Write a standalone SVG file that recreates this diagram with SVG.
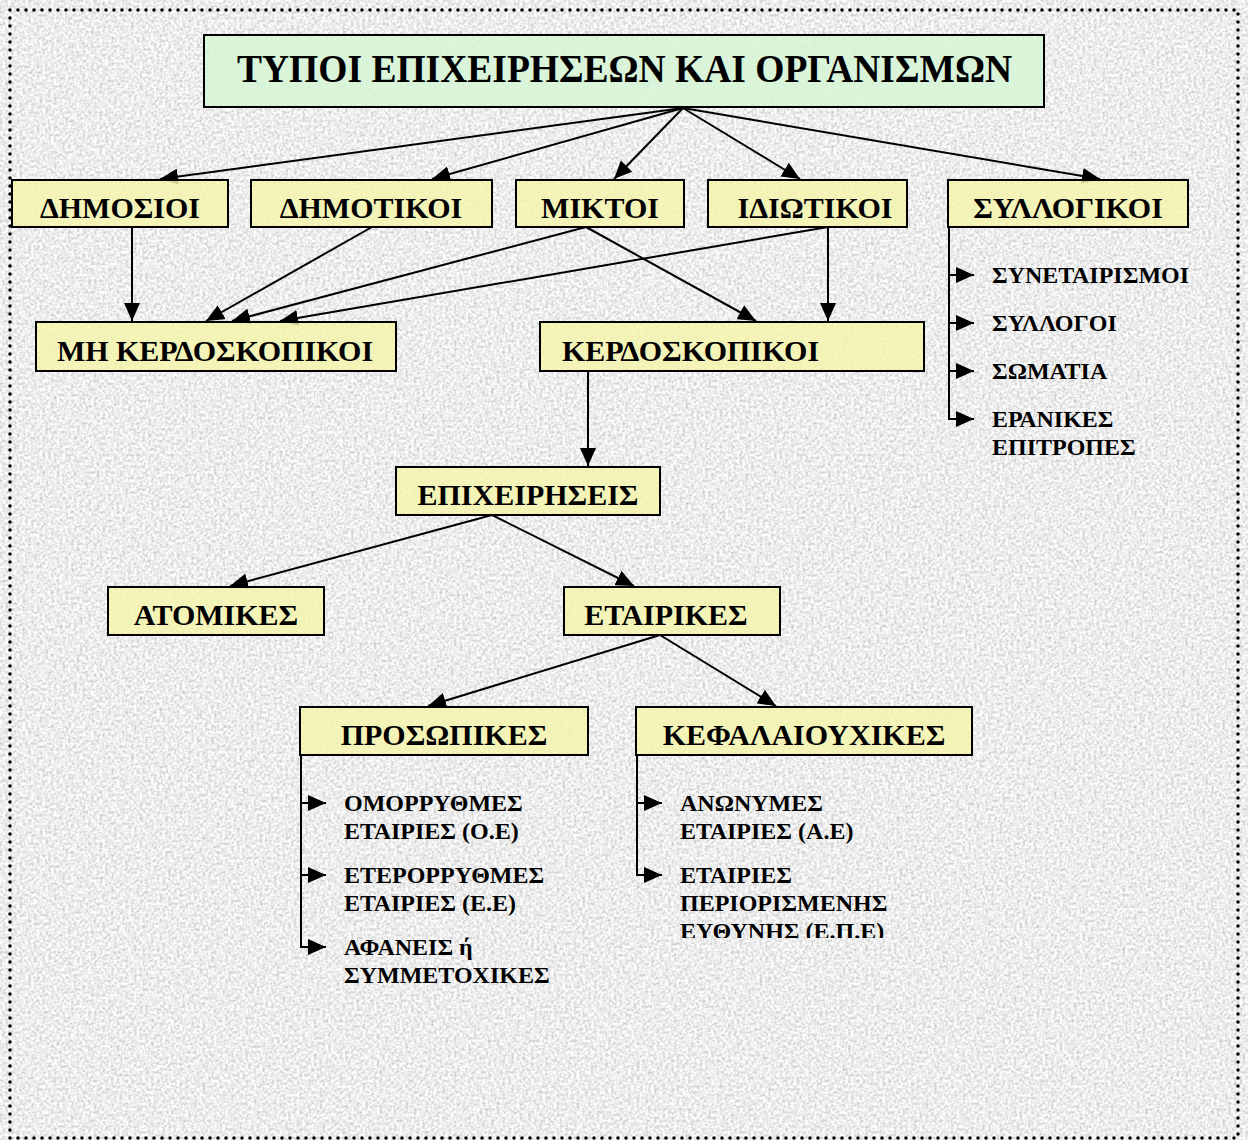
<svg xmlns="http://www.w3.org/2000/svg" width="1248" height="1140" viewBox="0 0 1248 1140">
<style>
.box{fill:#f6f4ae;fill-opacity:0.85;stroke:#000;stroke-width:2}
.title{fill:#d6f5d6;fill-opacity:0.88;stroke:#000;stroke-width:2}
.lbl{font-family:"Liberation Serif","Times New Roman",serif;font-weight:bold;fill:#000;text-anchor:middle}
.big{font-size:30px}
.item{font-family:"Liberation Serif","Times New Roman",serif;font-weight:bold;font-size:24px;fill:#000}
.con{fill:none;stroke:#000;stroke-width:2}
</style>
<defs>
<filter id="grain" x="0" y="0" width="100%" height="100%">
<feTurbulence type="fractalNoise" baseFrequency="0.35" numOctaves="4" seed="4"/>
<feColorMatrix type="matrix" values="0.75 0 0 0 0.47  0.75 0 0 0 0.47  0.75 0 0 0 0.47  0 0 0 0 1"/>
</filter>
<marker id="ah" markerUnits="userSpaceOnUse" markerWidth="20" markerHeight="16" refX="18" refY="8" orient="auto">
<path d="M0,0 L18,8 L0,16 Z" fill="#000"/>
</marker>
<clipPath id="clipEPE"><rect x="600" y="760" width="400" height="178"/></clipPath>
</defs>
<rect x="0" y="0" width="1248" height="1140" filter="url(#grain)"/>
<rect x="10" y="10" width="1228" height="1128" fill="none" stroke="#000" stroke-width="3.5" stroke-linecap="round" stroke-dasharray="0 8"/>

<g id="connectors">
<line class="con" x1="683" y1="108" x2="160" y2="179" marker-end="url(#ah)"/>
<line class="con" x1="683" y1="108" x2="432" y2="179" marker-end="url(#ah)"/>
<line class="con" x1="683" y1="108" x2="614" y2="179" marker-end="url(#ah)"/>
<line class="con" x1="683" y1="108" x2="800" y2="179" marker-end="url(#ah)"/>
<line class="con" x1="683" y1="108" x2="1100" y2="179" marker-end="url(#ah)"/>
<line class="con" x1="132" y1="227" x2="132" y2="321" marker-end="url(#ah)"/>
<line class="con" x1="372" y1="227" x2="206" y2="321" marker-end="url(#ah)"/>
<line class="con" x1="586" y1="227" x2="232" y2="321" marker-end="url(#ah)"/>
<line class="con" x1="586" y1="227" x2="756" y2="321" marker-end="url(#ah)"/>
<line class="con" x1="828" y1="227" x2="280" y2="321" marker-end="url(#ah)"/>
<line class="con" x1="828" y1="227" x2="828" y2="321" marker-end="url(#ah)"/>
<line class="con" x1="588" y1="371" x2="588" y2="466" marker-end="url(#ah)"/>
<line class="con" x1="492" y1="515" x2="230" y2="586" marker-end="url(#ah)"/>
<line class="con" x1="492" y1="515" x2="634" y2="586" marker-end="url(#ah)"/>
<line class="con" x1="660" y1="635" x2="428" y2="706" marker-end="url(#ah)"/>
<line class="con" x1="660" y1="635" x2="776" y2="706" marker-end="url(#ah)"/>
<path class="con" d="M949,227 V419 H974" marker-end="url(#ah)"/>
<line class="con" x1="949" y1="275" x2="974" y2="275" marker-end="url(#ah)"/>
<line class="con" x1="949" y1="323" x2="974" y2="323" marker-end="url(#ah)"/>
<line class="con" x1="949" y1="371" x2="974" y2="371" marker-end="url(#ah)"/>
<path class="con" d="M301,755 V947 H326" marker-end="url(#ah)"/>
<line class="con" x1="301" y1="803" x2="326" y2="803" marker-end="url(#ah)"/>
<line class="con" x1="301" y1="875" x2="326" y2="875" marker-end="url(#ah)"/>
<path class="con" d="M637,755 V875 H662" marker-end="url(#ah)"/>
<line class="con" x1="637" y1="803" x2="662" y2="803" marker-end="url(#ah)"/>
</g>

<g id="n-title"><rect class="title" x="204" y="35" width="840" height="72"/><text class="lbl" x="624.5" y="82" font-size="39" textLength="775" lengthAdjust="spacingAndGlyphs">ΤΥΠΟΙ ΕΠΙΧΕΙΡΗΣΕΩΝ ΚΑΙ ΟΡΓΑΝΙΣΜΩΝ</text></g>
<g id="n-dimosioi"><rect class="box" x="12" y="180" width="216" height="47"/><text class="lbl big" x="120" y="218">ΔΗΜΟΣΙΟΙ</text></g>
<g id="n-dimotikoi"><rect class="box" x="251" y="180" width="241" height="47"/><text class="lbl big" x="371" y="218">ΔΗΜΟΤΙΚΟΙ</text></g>
<g id="n-miktoi"><rect class="box" x="516" y="180" width="168" height="47"/><text class="lbl big" x="600" y="218">ΜΙΚΤΟΙ</text></g>
<g id="n-idiotikoi"><rect class="box" x="708" y="180" width="199" height="47"/><text class="lbl big" x="815" y="218">ΙΔΙΩΤΙΚΟΙ</text></g>
<g id="n-syllogikoi"><rect class="box" x="948" y="180" width="240" height="47"/><text class="lbl big" x="1068" y="218">ΣΥΛΛΟΓΙΚΟΙ</text></g>
<g id="n-mikerd"><rect class="box" x="36" y="322" width="360" height="49"/><text class="lbl big" x="215" y="361">ΜΗ ΚΕΡΔΟΣΚΟΠΙΚΟΙ</text></g>
<g id="n-kerd"><rect class="box" x="540" y="322" width="384" height="49"/><text class="lbl big" x="562" y="361" style="text-anchor:start">ΚΕΡΔΟΣΚΟΠΙΚΟΙ</text></g>
<g id="n-epix"><rect class="box" x="396" y="467" width="264" height="48"/><text class="lbl big" x="528" y="505">ΕΠΙΧΕΙΡΗΣΕΙΣ</text></g>
<g id="n-atomikes"><rect class="box" x="108" y="587" width="216" height="48"/><text class="lbl big" x="216" y="625">ΑΤΟΜΙΚΕΣ</text></g>
<g id="n-etairikes"><rect class="box" x="564" y="587" width="216" height="48"/><text class="lbl big" x="666" y="625">ΕΤΑΙΡΙΚΕΣ</text></g>
<g id="n-prosopikes"><rect class="box" x="300" y="707" width="288" height="48"/><text class="lbl big" x="444" y="745">ΠΡΟΣΩΠΙΚΕΣ</text></g>
<g id="n-kefal"><rect class="box" x="636" y="707" width="336" height="48"/><text class="lbl big" x="804" y="745">ΚΕΦΑΛΑΙΟΥΧΙΚΕΣ</text></g>

<g id="list-syllogikoi">
<text class="item" x="992" y="283">ΣΥΝΕΤΑΙΡΙΣΜΟΙ</text>
<text class="item" x="992" y="331">ΣΥΛΛΟΓΟΙ</text>
<text class="item" x="992" y="379">ΣΩΜΑΤΙΑ</text>
<text class="item" x="992" y="427">ΕΡΑΝΙΚΕΣ</text>
<text class="item" x="992" y="455">ΕΠΙΤΡΟΠΕΣ</text>
</g>
<g id="list-prosopikes">
<text class="item" x="344" y="811">ΟΜΟΡΡΥΘΜΕΣ</text>
<text class="item" x="344" y="839">ΕΤΑΙΡΙΕΣ (Ο.Ε)</text>
<text class="item" x="344" y="883">ΕΤΕΡΟΡΡΥΘΜΕΣ</text>
<text class="item" x="344" y="911">ΕΤΑΙΡΙΕΣ (Ε.Ε)</text>
<text class="item" x="344" y="955">ΑΦΑΝΕΙΣ ή</text>
<text class="item" x="344" y="983">ΣΥΜΜΕΤΟΧΙΚΕΣ</text>
</g>
<g id="list-kefal">
<text class="item" x="680" y="811">ΑΝΩΝΥΜΕΣ</text>
<text class="item" x="680" y="839">ΕΤΑΙΡΙΕΣ (Α.Ε)</text>
<text class="item" x="680" y="883">ΕΤΑΙΡΙΕΣ</text>
<text class="item" x="680" y="911">ΠΕΡΙΟΡΙΣΜΕΝΗΣ</text>
<text class="item" x="680" y="939" clip-path="url(#clipEPE)">ΕΥΘΥΝΗΣ (Ε.Π.Ε)</text>
</g>
</svg>
